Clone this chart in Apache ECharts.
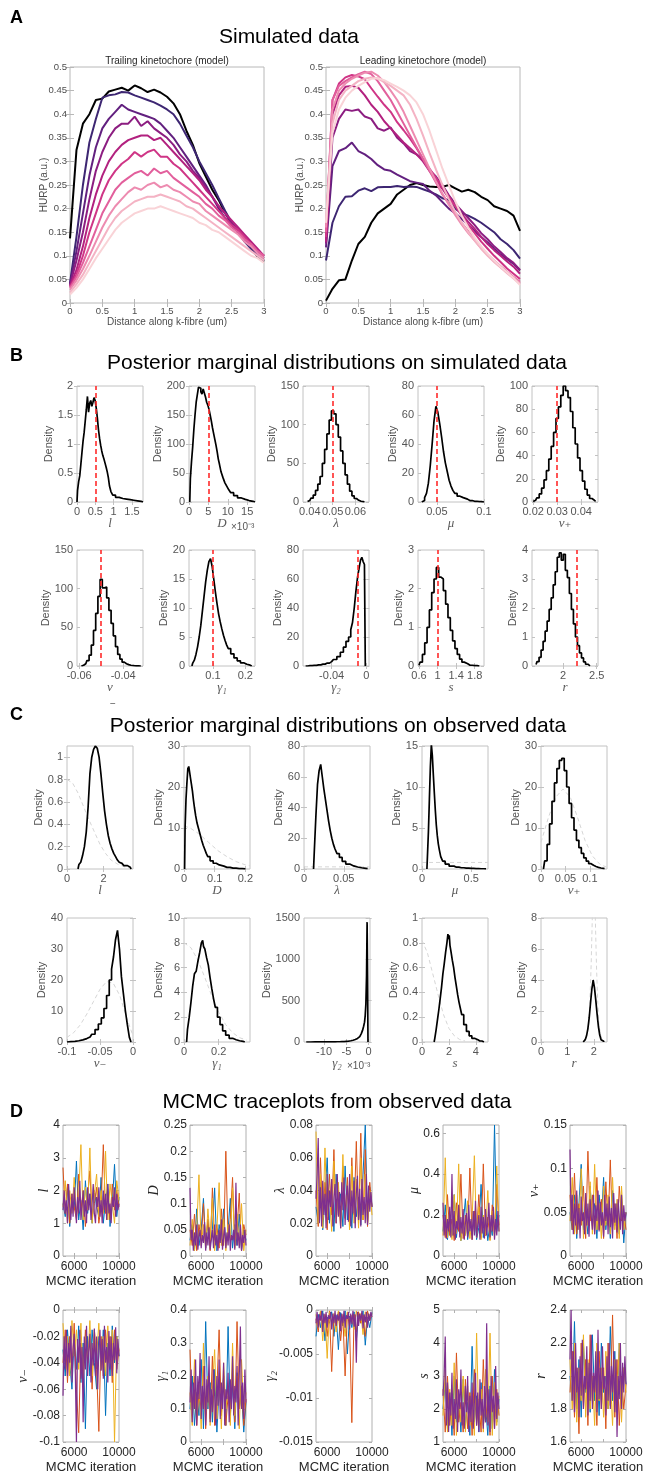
<!DOCTYPE html>
<html>
<head>
<meta charset="utf-8">
<script src="https://cdn.jsdelivr.net/npm/echarts@6/dist/echarts.min.js"></script>
<style>
  html, body { margin: 0; padding: 0; background: #fff; }
  #chart { width: 645px; height: 1477px; }
</style>
</head>
<body>
<div id="chart"></div>
<script>
// ---------------- panel A : HURP profiles ----------------
var distX = [0,0.1,0.2,0.3,0.4,0.5,0.6,0.7,0.8,0.9,1,1.1,1.2,1.3,1.4,1.5,1.6,1.7,1.8,1.9,2,2.1,2.2,2.3,2.4,2.5,2.6,2.7,2.8,2.9,3]

var trail0 = [0.137,0.324,0.38,0.40,0.43,0.433,0.448,0.452,0.456,0.45,0.461,0.455,0.447,0.452,0.446,0.437,0.423,0.40,0.365,0.335,0.296,0.268,0.24,0.218,0.19,0.169,0.148,0.134,0.116,0.099,0.088]
var trail1 = [0.042,0.14,0.25,0.34,0.39,0.435,0.44,0.442,0.447,0.446,0.44,0.435,0.43,0.425,0.418,0.41,0.40,0.38,0.355,0.33,0.30,0.275,0.25,0.222,0.195,0.17,0.15,0.13,0.115,0.1,0.09]
var trail2 = [0.04,0.11,0.19,0.27,0.33,0.37,0.39,0.405,0.42,0.41,0.405,0.4,0.395,0.39,0.38,0.365,0.35,0.33,0.31,0.29,0.27,0.25,0.225,0.2,0.18,0.165,0.15,0.135,0.12,0.105,0.095]
var trail3 = [0.038,0.09,0.15,0.22,0.28,0.32,0.35,0.37,0.38,0.38,0.395,0.375,0.385,0.37,0.36,0.35,0.335,0.315,0.3,0.28,0.265,0.245,0.225,0.205,0.19,0.17,0.155,0.14,0.125,0.11,0.1]
var trail4 = [0.036,0.07,0.12,0.18,0.23,0.27,0.3,0.32,0.335,0.345,0.35,0.355,0.355,0.345,0.35,0.335,0.32,0.305,0.29,0.275,0.26,0.24,0.225,0.205,0.19,0.175,0.16,0.145,0.13,0.115,0.1]
var trail5 = [0.034,0.06,0.1,0.15,0.19,0.23,0.26,0.28,0.295,0.305,0.32,0.31,0.32,0.325,0.31,0.31,0.295,0.285,0.27,0.255,0.24,0.225,0.21,0.195,0.18,0.165,0.155,0.14,0.125,0.11,0.1]
var trail6 = [0.032,0.055,0.085,0.12,0.155,0.19,0.215,0.24,0.255,0.265,0.275,0.28,0.27,0.285,0.275,0.28,0.265,0.255,0.245,0.235,0.225,0.21,0.2,0.185,0.175,0.16,0.15,0.135,0.125,0.11,0.1]
var trail7 = [0.028,0.048,0.072,0.1,0.13,0.16,0.185,0.205,0.22,0.235,0.245,0.24,0.25,0.255,0.245,0.25,0.24,0.235,0.225,0.215,0.21,0.195,0.185,0.175,0.165,0.155,0.145,0.13,0.12,0.105,0.095]
var trail8 = [0.022,0.04,0.06,0.085,0.11,0.135,0.16,0.18,0.195,0.205,0.215,0.22,0.225,0.225,0.23,0.225,0.22,0.215,0.205,0.2,0.19,0.18,0.17,0.16,0.15,0.14,0.13,0.12,0.11,0.1,0.09]
var trail9 = [0.018,0.032,0.05,0.072,0.095,0.115,0.135,0.155,0.17,0.18,0.19,0.195,0.2,0.2,0.205,0.2,0.195,0.19,0.185,0.18,0.17,0.165,0.155,0.15,0.14,0.13,0.12,0.11,0.1,0.095,0.085]

var lead0 = [0.005,0.03,0.048,0.05,0.09,0.125,0.14,0.17,0.19,0.2,0.21,0.23,0.24,0.25,0.254,0.25,0.247,0.246,0.246,0.25,0.243,0.236,0.24,0.235,0.225,0.218,0.205,0.2,0.195,0.185,0.153]
var lead1 = [0.09,0.17,0.205,0.225,0.226,0.238,0.243,0.237,0.245,0.246,0.246,0.248,0.246,0.247,0.246,0.241,0.236,0.23,0.222,0.218,0.2,0.19,0.185,0.178,0.17,0.16,0.15,0.135,0.125,0.112,0.094]
var lead2 = [0.118,0.29,0.322,0.328,0.34,0.322,0.315,0.305,0.292,0.283,0.28,0.272,0.265,0.258,0.255,0.252,0.238,0.228,0.214,0.2,0.19,0.178,0.165,0.152,0.14,0.128,0.115,0.103,0.093,0.083,0.069]
var lead3 = [0.126,0.35,0.39,0.41,0.407,0.41,0.395,0.39,0.37,0.365,0.372,0.35,0.338,0.322,0.315,0.305,0.282,0.268,0.25,0.228,0.21,0.195,0.18,0.165,0.148,0.135,0.12,0.108,0.095,0.085,0.07]
var lead4 = [0.13,0.4,0.44,0.458,0.46,0.456,0.44,0.42,0.405,0.385,0.37,0.355,0.34,0.328,0.315,0.3,0.28,0.26,0.242,0.222,0.205,0.188,0.172,0.157,0.14,0.125,0.112,0.1,0.088,0.077,0.062]
var lead5 = [0.14,0.43,0.465,0.478,0.483,0.48,0.474,0.455,0.437,0.42,0.405,0.383,0.366,0.348,0.328,0.305,0.285,0.265,0.245,0.225,0.205,0.185,0.165,0.148,0.13,0.115,0.1,0.087,0.073,0.062,0.051]
var lead6 = [0.15,0.43,0.46,0.47,0.478,0.485,0.49,0.485,0.47,0.45,0.43,0.405,0.38,0.355,0.33,0.305,0.28,0.255,0.23,0.21,0.19,0.17,0.152,0.135,0.118,0.103,0.09,0.078,0.066,0.055,0.045]
var lead7 = [0.16,0.41,0.45,0.465,0.475,0.482,0.488,0.49,0.482,0.468,0.45,0.43,0.405,0.375,0.345,0.315,0.285,0.258,0.232,0.208,0.186,0.166,0.148,0.132,0.116,0.102,0.088,0.076,0.065,0.055,0.042]
var lead8 = [0.17,0.38,0.43,0.45,0.46,0.47,0.475,0.478,0.476,0.468,0.46,0.45,0.44,0.42,0.39,0.355,0.318,0.283,0.25,0.22,0.193,0.17,0.15,0.132,0.115,0.1,0.087,0.075,0.063,0.052,0.04]
var lead9 = [0.17,0.36,0.41,0.435,0.45,0.46,0.468,0.475,0.476,0.472,0.465,0.458,0.45,0.44,0.425,0.4,0.365,0.325,0.285,0.25,0.215,0.185,0.16,0.138,0.12,0.104,0.09,0.077,0.065,0.053,0.038]

var shades = ['#000000','#3d2672','#62207f','#8c1d81','#b2217f','#cf3586','#e25f9c','#ed8bb0','#f4b3c4','#f9d3d7']

// ---------------- panel B : posteriors, simulated data ----------------
var bL_x = [0,0.03,0.06,0.09,0.12,0.15,0.18,0.21,0.24,0.27,0.3,0.33,0.36,0.39,0.42,0.45,0.48,0.51,0.54,0.57,0.6,0.63,0.66,0.69,0.72,0.75,0.78,0.81,0.84,0.87,0.9,0.95,1.0,1.1,1.2,1.3,1.4,1.5,1.6,1.7,1.8]
var bL_y = [0,0.2,0.35,0.45,0.65,0.85,1.05,1.2,1.4,1.6,1.82,1.55,1.7,1.75,1.65,1.72,1.8,1.75,1.62,1.45,1.25,1.1,0.98,0.88,0.8,0.74,0.67,0.6,0.52,0.42,0.28,0.18,0.12,0.08,0.06,0.05,0.04,0.03,0.02,0.01,0]
var bD_x = [0.2,0.5,0.8,1.1,1.4,1.7,2,2.3,2.6,2.9,3.2,3.5,3.8,4.1,4.4,4.7,5,5.3,5.6,5.9,6.2,6.5,6.8,7.1,7.4,7.7,8,8.5,9,9.5,10,10.5,11,12,13,14,15,16,17]
var bD_y = [0,40,70,95,125,150,172,185,198,196,190,186,195,188,181,172,167,160,150,140,128,118,108,98,87,74,65,52,42,33,27,21,16,11,7,4.5,2.5,1.2,0]
var bLam_x = [0.039,0.040,0.041,0.042,0.043,0.044,0.045,0.046,0.047,0.048,0.049,0.050,0.051,0.052,0.053,0.054,0.055,0.056,0.057,0.058,0.059,0.060,0.061,0.062,0.063,0.064]
var bLam_y = [0.5,2,5,9,15,23,33,50,68,88,106,118,114,100,84,66,50,35,23,14,8,4.5,2.2,1,0.4,0]
var bMu_x = [0.034,0.036,0.038,0.040,0.042,0.044,0.046,0.048,0.050,0.052,0.054,0.056,0.058,0.060,0.062,0.064,0.066,0.068,0.070,0.073,0.076,0.080,0.085,0.090,0.095,0.1]
var bMu_y = [0,1,3,6,13,25,40,56,66,62,54,45,35,27,21,15,11,8,6,4,3,2,1,0.5,0.2,0]
var bNup_x = [0.020,0.021,0.022,0.023,0.024,0.025,0.026,0.027,0.028,0.029,0.030,0.031,0.032,0.033,0.034,0.035,0.036,0.037,0.038,0.039,0.040,0.041,0.042,0.043,0.044,0.045,0.046]
var bNup_y = [0.5,1.5,3.5,7,12,19,27,37,48,60,72,82,92,100,96,90,78,64,50,38,27,18,11,6,3,1.5,0.5]
var bNum_x = [-0.059,-0.058,-0.057,-0.056,-0.055,-0.054,-0.053,-0.052,-0.051,-0.050,-0.049,-0.048,-0.047,-0.046,-0.045,-0.044,-0.043,-0.042,-0.041,-0.040,-0.039,-0.038,-0.037,-0.036,-0.034,-0.032]
var bNum_y = [0,1,3,7,14,27,46,68,90,112,101,102,88,72,55,39,25,15,9,5,3,1.8,1,0.5,0.2,0]
var bG1_x = [0.035,0.04,0.045,0.05,0.055,0.06,0.065,0.07,0.075,0.08,0.085,0.09,0.095,0.1,0.105,0.11,0.115,0.12,0.125,0.13,0.135,0.14,0.145,0.15,0.16,0.17,0.18,0.19,0.2,0.21,0.22]
var bG1_y = [0,0.5,1,2,3.3,5,7,9.5,12,14.5,16.5,18,18.5,17.2,15,12.8,10.8,9,7.6,6.4,5.3,4.4,3.6,3,2.1,1.4,0.9,0.55,0.3,0.15,0]
var bG2_x = [-0.07,-0.065,-0.06,-0.055,-0.05,-0.045,-0.04,-0.036,-0.032,-0.028,-0.025,-0.022,-0.019,-0.017,-0.015,-0.013,-0.011,-0.009,-0.0075,-0.006,-0.0045,-0.003,-0.0015,-0.001]
var bG2_y = [0,0.2,0.4,0.8,1.3,2,3,4.5,6.5,9.5,13,17,20,25,30,40,52,62,68,73,75,72,70,0]
var bS_x = [0.6,0.65,0.7,0.75,0.8,0.85,0.9,0.95,1.0,1.05,1.1,1.15,1.2,1.25,1.3,1.35,1.4,1.45,1.5,1.55,1.6,1.7,1.8,1.9]
var bS_y = [0.02,0.1,0.3,0.6,1.0,1.45,1.9,2.25,2.55,2.3,2.25,1.95,1.6,1.25,0.92,0.65,0.45,0.3,0.18,0.1,0.06,0.02,0.01,0]
var bR_x = [1.6,1.63,1.66,1.69,1.72,1.75,1.78,1.81,1.84,1.87,1.9,1.93,1.96,1.99,2.02,2.05,2.08,2.11,2.14,2.17,2.2,2.23,2.26,2.29,2.32,2.35,2.4]
var bR_y = [0.05,0.15,0.3,0.55,0.85,1.2,1.55,1.95,2.35,2.8,3.25,3.75,3.9,3.65,3.85,3.3,3.05,2.5,1.95,1.45,1.0,0.7,0.45,0.28,0.14,0.06,0]
var bTruth = [0.5, 5, 0.05, 0.05, 0.03, -0.05, 0.1, -0.008, 1, 2.2]

// ---------------- panel C : posteriors, observed data (grey = prior) ----------------
var cL_x = [0.6,0.7,0.8,0.9,1.0,1.1,1.2,1.3,1.4,1.5,1.6,1.7,1.8,1.9,2.0,2.1,2.2,2.3,2.4,2.5,2.6,2.7,2.8,2.9,3.0,3.2,3.4,3.5]
var cL_y = [0,0.04,0.06,0.12,0.2,0.33,0.55,0.85,1.0,1.07,1.1,1.08,1.0,0.85,0.68,0.52,0.4,0.3,0.23,0.18,0.14,0.11,0.08,0.06,0.05,0.03,0.015,0]
var cL_px = [0,0.3,0.6,0.9,1.2,1.5,1.8,2.1,2.4,2.8,3.2,3.6]
var cL_py = [0.8,0.77,0.68,0.56,0.44,0.33,0.22,0.14,0.08,0.04,0.015,0.005]
var cD_x = [0.002,0.005,0.008,0.011,0.014,0.017,0.02,0.023,0.026,0.029,0.032,0.036,0.04,0.045,0.05,0.055,0.06,0.065,0.07,0.075,0.08,0.09,0.1,0.11,0.12,0.14,0.16,0.18,0.2]
var cD_y = [0,10,17,21,24.5,25,23.5,22,20.5,19,17,15,13,11.2,9.8,8.4,7,5.8,4.8,3.8,3,2,1.4,1,0.7,0.4,0.2,0.1,0.05]
var cD_px = [0,0.02,0.05,0.08,0.11,0.14,0.17,0.2,0.215]
var cD_py = [10.5,10,8.5,6.5,4.5,3,1.8,1,0.8]
var cLam_x = [0.012,0.014,0.016,0.018,0.02,0.022,0.024,0.026,0.028,0.03,0.032,0.034,0.036,0.038,0.04,0.043,0.046,0.05,0.055,0.06,0.065,0.07,0.075,0.08]
var cLam_y = [0,12,35,55,64,68,60,52,45,38,31,25,20,16,13,10,7.5,5,3.2,2,1.3,0.8,0.4,0.2]
var cLam_px = [0,0.083]
var cLam_py = [1.4,1.4]
var cMu_x = [0.05,0.06,0.07,0.08,0.09,0.1,0.11,0.12,0.13,0.14,0.15,0.16,0.17,0.18,0.2,0.22,0.25,0.3,0.35,0.4,0.45,0.5,0.55,0.6,0.65]
var cMu_y = [0,1.5,4.5,8.5,12.5,15.2,13.8,11.5,9.3,7.2,5.4,4.1,3.1,2.4,1.5,0.95,0.6,0.35,0.22,0.15,0.1,0.07,0.05,0.03,0.02]
var cMu_px = [0,0.67]
var cMu_py = [0.8,0.8]
var cNup_x = [0.005,0.01,0.015,0.02,0.025,0.03,0.035,0.04,0.045,0.05,0.055,0.06,0.065,0.07,0.075,0.08,0.085,0.09,0.095,0.1,0.105,0.11,0.115,0.12,0.125,0.13]
var cNup_y = [0,2,6,11,16.5,21,24.5,26.5,27,24,20,16,12.5,9.5,7,5.2,3.8,2.7,1.9,1.3,0.9,0.6,0.4,0.25,0.15,0.1]
var cNup_px = [0,0.015,0.03,0.045,0.06,0.075,0.09,0.105,0.12,0.135]
var cNup_py = [6.5,12.5,17.5,19.5,17.5,12.5,7,3.2,1.2,0.4]
var cNum_x = [-0.1,-0.094,-0.088,-0.082,-0.076,-0.07,-0.065,-0.06,-0.055,-0.05,-0.046,-0.042,-0.038,-0.034,-0.031,-0.028,-0.025,-0.022,-0.019,-0.016,-0.013,-0.01,-0.007,-0.004,-0.002]
var cNum_y = [0,0.1,0.2,0.4,0.7,1.1,1.6,2.5,4,5.8,7.8,10.8,15,20,23.5,27.5,33,36,30,21,15.5,10,5.5,1.5,0]
var cNum_px = [-0.1,-0.09,-0.08,-0.07,-0.06,-0.05,-0.04,-0.03,-0.02,-0.01,0]
var cNum_py = [1.5,3,5.5,9,13,17,19.5,19,15,8,2]
var cG1_x = [0.015,0.025,0.035,0.045,0.055,0.065,0.075,0.085,0.095,0.105,0.11,0.115,0.125,0.135,0.145,0.155,0.165,0.175,0.185,0.2,0.215,0.23,0.25,0.27,0.29,0.31,0.33,0.35]
var cG1_y = [0,1,2,3.2,4.5,5.5,5.7,6.5,7.2,8,8.2,7.7,7.5,6.8,6.2,5.2,4.3,3.5,2.8,2,1.4,0.9,0.55,0.3,0.18,0.1,0.05,0]
var cG1_px = [0,0.04,0.08,0.12,0.16,0.2,0.24,0.28,0.32,0.36]
var cG1_py = [8,7.6,6.6,5.2,3.7,2.4,1.4,0.75,0.35,0.15]
var cG2_x = [-14,-12,-10,-8,-7,-6,-5,-4.5,-4,-3.5,-3,-2.5,-2,-1.75,-1.5,-1.25,-1,-0.85,-0.7,-0.55,-0.4,-0.3,-0.2,-0.1]
var cG2_y = [0,0.5,1,2,3,5,8,11,15,21,30,43,65,82,105,140,190,240,320,460,800,1450,800,0]
var cS_x = [0.9,1.0,1.1,1.2,1.3,1.4,1.5,1.6,1.7,1.8,1.9,1.95,2.0,2.05,2.1,2.2,2.3,2.4,2.5,2.6,2.7,2.8,2.9,3.0,3.2,3.4,3.6,3.8,4.0,4.3,4.6]
var cS_y = [0,0.03,0.1,0.18,0.26,0.35,0.44,0.55,0.63,0.72,0.8,0.87,0.83,0.86,0.78,0.73,0.66,0.6,0.52,0.45,0.38,0.32,0.27,0.22,0.14,0.085,0.05,0.03,0.018,0.008,0]
var cS_px = [0,0.4,0.8,1.2,1.6,2.0,2.4,2.8,3.2]
var cS_py = [0.82,0.72,0.55,0.38,0.22,0.11,0.05,0.02,0.008]
var cR_x = [1.6,1.65,1.7,1.75,1.8,1.85,1.9,1.95,2.0,2.05,2.1,2.15,2.2,2.25,2.3,2.35,2.4]
var cR_y = [0,0.05,0.15,0.4,0.85,1.55,2.5,3.4,4.0,3.5,2.7,1.8,1.0,0.45,0.15,0.05,0]
var cR_px = [1.7,1.8,1.85,1.9,1.95,2.0,2.05,2.1,2.15,2.2,2.3]
var cR_py = [0.2,1,2.5,5,8.5,10,8.5,5,2.5,1,0.2]

// ---------------- panel D : MCMC traces ----------------
// blue / orange / yellow chains on a 200-step grid, purple (drawn last) on a 100-step grid
var iterX = [5000,5200,5400,5600,5800,6000,6200,6400,6600,6800,7000,7200,7400,7600,7800,8000,8200,8400,8600,8800,9000,9200,9400,9600,9800,10000]
var iterFine = [5000,5100,5200,5300,5400,5500,5600,5700,5800,5900,6000,6100,6200,6300,6400,6500,6600,6700,6800,6900,7000,7100,7200,7300,7400,7500,7600,7700,7800,7900,8000,8100,8200,8300,8400,8500,8600,8700,8800,8900,9000,9100,9200,9300,9400,9500,9600,9700,9800,9900,10000]
var chainColors = ['#0072BD','#D95319','#EDB120','#7E2F8E']

var dL = [
  [1.6,1.2,2.1,0.9,1.8,1.4,2.9,1.1,1.7,0.8,2.3,1.3,1.9,1.0,2.0,1.5,1.2,2.4,1.0,1.7,2.2,0.9,1.6,2.8,1.2,1.8],
  [2.7,1.3,2.2,1.0,1.9,1.5,1.1,2.5,1.4,2.0,0.9,1.8,2.6,1.2,1.6,2.1,1.0,1.5,3.4,1.3,1.9,1.1,2.2,1.4,2.0,1.5],
  [1.5,2.3,1.0,2.0,1.3,2.4,1.2,1.8,3.4,1.1,2.1,1.4,3.3,1.0,1.9,2.5,1.2,2.0,1.3,3.2,1.1,2.2,1.6,1.0,2.3,1.7]]
var dL_p = [1.4,2.0,1.3,1.7,1.0,2.2,1.5,1.1,1.9,1.2,2.1,1.6,1.0,1.8,1.3,2.3,1.1,1.5,2.0,1.2,1.7,1.0,2.1,1.4,1.9,1.1,1.6,2.2,1.3,1.0,1.8,1.5,2.1,1.2,1.7,1.0,2.0,1.4,1.9,1.1,2.2,1.3,1.6,1.0,1.8,1.5,2.1,1.2,1.9,1.4,1.6]
var dD = [
  [0.03,0.06,0.01,0.09,0.02,0.05,0.11,0.015,0.07,0.02,0.05,0.13,0.01,0.06,0.03,0.09,0.02,0.05,0.11,0.015,0.06,0.02,0.08,0.01,0.05,0.03],
  [0.05,0.02,0.08,0.01,0.06,0.03,0.1,0.02,0.07,0.01,0.13,0.03,0.06,0.015,0.09,0.02,0.2,0.03,0.07,0.15,0.02,0.05,0.12,0.01,0.06,0.04],
  [0.02,0.07,0.01,0.05,0.155,0.02,0.06,0.015,0.09,0.03,0.11,0.01,0.05,0.14,0.02,0.07,0.01,0.06,0.03,0.13,0.015,0.08,0.02,0.1,0.01,0.05]]
var dD_p = [0.13,0.03,0.05,0.01,0.045,0.02,0.06,0.012,0.035,0.05,0.015,0.04,0.025,0.065,0.01,0.045,0.02,0.055,0.012,0.03,0.05,0.015,0.06,0.02,0.04,0.01,0.05,0.025,0.07,0.012,0.035,0.055,0.015,0.045,0.02,0.06,0.01,0.04,0.03,0.05,0.012,0.14,0.02,0.045,0.015,0.06,0.01,0.04,0.025,0.05,0.02]
var dLam = [
  [0.03,0.02,0.045,0.016,0.035,0.06,0.02,0.04,0.015,0.05,0.025,0.038,0.018,0.055,0.022,0.04,0.017,0.048,0.024,0.036,0.019,0.05,0.08,0.02,0.042,0.03],
  [0.04,0.018,0.06,0.022,0.045,0.016,0.05,0.025,0.065,0.02,0.04,0.017,0.055,0.023,0.048,0.019,0.06,0.025,0.07,0.02,0.075,0.022,0.065,0.018,0.045,0.03],
  [0.076,0.02,0.05,0.017,0.066,0.024,0.04,0.015,0.058,0.021,0.045,0.018,0.062,0.023,0.042,0.016,0.055,0.02,0.047,0.017,0.06,0.022,0.05,0.019,0.04,0.025]]
var dLam_p = [0.035,0.05,0.072,0.02,0.042,0.018,0.046,0.025,0.038,0.017,0.05,0.022,0.04,0.03,0.047,0.018,0.036,0.044,0.02,0.05,0.024,0.039,0.017,0.045,0.028,0.048,0.019,0.037,0.043,0.021,0.05,0.018,0.04,0.026,0.046,0.017,0.038,0.049,0.022,0.041,0.018,0.047,0.025,0.036,0.02,0.05,0.019,0.043,0.027,0.039,0.03]
var dMu = [
  [0.12,0.25,0.08,0.18,0.1,0.3,0.09,0.2,0.075,0.15,0.28,0.08,0.17,0.1,0.22,0.08,0.14,0.35,0.09,0.19,0.075,0.16,0.1,0.64,0.12,0.2],
  [0.2,0.09,0.3,0.1,0.18,0.075,0.26,0.12,0.4,0.085,0.2,0.1,0.43,0.08,0.22,0.11,0.3,0.09,0.45,0.1,0.19,0.08,0.25,0.1,0.35,0.15],
  [0.1,0.48,0.09,0.22,0.08,0.3,0.11,0.45,0.075,0.2,0.1,0.27,0.085,0.18,0.49,0.09,0.24,0.08,0.2,0.1,0.32,0.075,0.22,0.09,0.44,0.12]]
var dMu_p = [0.26,0.1,0.2,0.085,0.18,0.12,0.24,0.09,0.4,0.1,0.22,0.08,0.17,0.13,0.25,0.09,0.19,0.11,0.23,0.08,0.16,0.21,0.09,0.25,0.12,0.18,0.08,0.22,0.1,0.27,0.09,0.15,0.2,0.08,0.24,0.11,0.19,0.085,0.23,0.1,0.17,0.26,0.09,0.2,0.12,0.24,0.08,0.18,0.1,0.22,0.12]
var dNup = [
  [0.05,0.03,0.07,0.02,0.06,0.105,0.03,0.05,0.025,0.08,0.035,0.06,0.02,0.07,0.04,0.09,0.03,0.055,0.02,0.075,0.035,0.06,0.025,0.07,0.015,0.05],
  [0.07,0.03,0.095,0.025,0.06,0.035,0.08,0.02,0.12,0.04,0.07,0.025,0.09,0.03,0.065,0.02,0.085,0.035,0.11,0.03,0.06,0.02,0.08,0.04,0.05,0.03],
  [0.04,0.09,0.025,0.07,0.03,0.1,0.02,0.06,0.035,0.085,0.025,0.105,0.03,0.06,0.02,0.08,0.035,0.07,0.025,0.09,0.03,0.065,0.02,0.08,0.03,0.05]]
var dNup_p = [0.122,0.04,0.07,0.025,0.06,0.035,0.075,0.03,0.055,0.02,0.068,0.04,0.05,0.025,0.072,0.035,0.06,0.022,0.065,0.045,0.03,0.07,0.025,0.058,0.04,0.075,0.028,0.062,0.035,0.05,0.022,0.07,0.04,0.06,0.025,0.068,0.033,0.055,0.02,0.072,0.038,0.06,0.027,0.065,0.045,0.03,0.07,0.025,0.058,0.04,0.05]
var dNum = [
  [-0.03,-0.05,-0.015,-0.04,-0.06,-0.02,-0.045,-0.012,-0.055,-0.025,-0.09,-0.02,-0.05,-0.015,-0.04,-0.06,-0.02,-0.045,-0.015,-0.08,-0.025,-0.05,-0.012,-0.04,-0.02,-0.035],
  [-0.04,-0.015,-0.055,-0.02,-0.045,-0.01,-0.06,-0.093,-0.025,-0.05,-0.015,-0.04,-0.02,-0.06,-0.015,-0.045,-0.092,-0.02,-0.05,-0.015,-0.04,-0.02,-0.055,-0.015,-0.045,-0.03],
  [-0.01,-0.04,-0.02,-0.05,-0.008,-0.035,-0.015,-0.045,-0.01,-0.055,-0.02,-0.04,-0.008,-0.05,-0.015,-0.035,-0.01,-0.045,-0.02,-0.05,-0.012,-0.04,-0.015,-0.1,-0.02,-0.03]]
var dNum_p = [-0.065,-0.02,-0.045,-0.015,-0.05,-0.025,-0.04,-0.012,-0.055,-0.03,-0.018,-0.048,-0.1,-0.022,-0.04,-0.015,-0.052,-0.028,-0.085,-0.02,-0.045,-0.012,-0.05,-0.03,-0.018,-0.055,-0.025,-0.042,-0.014,-0.05,-0.02,-0.06,-0.03,-0.015,-0.046,-0.022,-0.052,-0.012,-0.04,-0.028,-0.055,-0.016,-0.045,-0.02,-0.05,-0.025,-0.038,-0.013,-0.048,-0.022,-0.035]
var dG1 = [
  [0.1,0.2,0.05,0.15,0.08,0.25,0.04,0.365,0.1,0.18,0.06,0.22,0.03,0.16,0.09,0.2,0.05,0.35,0.08,0.17,0.04,0.21,0.1,0.15,0.03,0.12],
  [0.28,0.08,0.2,0.05,0.15,0.1,0.23,0.04,0.18,0.07,0.26,0.05,0.16,0.34,0.08,0.2,0.05,0.14,0.09,0.22,0.06,0.365,0.1,0.17,0.05,0.13],
  [0.15,0.05,0.25,0.08,0.18,0.04,0.3,0.09,0.2,0.05,0.16,0.28,0.07,0.19,0.04,0.24,0.1,0.17,0.05,0.3,0.08,0.2,0.04,0.25,0.1,0.15]]
var dG1_p = [0.12,0.22,0.06,0.18,0.1,0.25,0.05,0.2,0.13,0.27,0.07,0.17,0.1,0.23,0.05,0.19,0.12,0.26,0.06,0.16,0.09,0.22,0.14,0.05,0.2,0.11,0.25,0.07,0.18,0.1,0.24,0.05,0.16,0.13,0.21,0.06,0.19,0.1,0.26,0.08,0.17,0.12,0.23,0.05,0.2,0.35,0.1,0.18,0.07,0.22,0.12]
var dG2 = [
  [-0.003,-0.0005,-0.002,-0.0001,-0.0035,-0.0008,-0.0015,-0.0002,-0.003,-0.0006,-0.0045,-0.0003,-0.0018,-0.0001,-0.005,-0.0007,-0.002,-0.0002,-0.0035,-0.0005,-0.0015,-0.0001,-0.004,-0.0008,-0.002,-0.0003],
  [-0.001,-0.0025,-0.0002,-0.0015,-0.0005,-0.003,-0.0001,-0.007,-0.0006,-0.002,-0.0002,-0.0035,-0.0007,-0.0075,-0.0003,-0.002,-0.0128,-0.0005,-0.0025,-0.0002,-0.0015,-0.0006,-0.003,-0.0001,-0.0012,-0.0004],
  [-0.0005,-0.002,-0.0001,-0.0035,-0.0006,-0.0055,-0.0002,-0.0015,-0.0004,-0.0025,-0.0001,-0.0018,-0.0005,-0.003,-0.0002,-0.0012,-0.0006,-0.0022,-0.0001,-0.0015,-0.0004,-0.0028,-0.0002,-0.0012,-0.0005,-0.0008]]
var dG2_p = [-0.0015,-0.0002,-0.002,-0.0005,-0.0012,-0.0001,-0.0025,-0.0004,-0.0015,-0.0002,-0.002,-0.0006,-0.001,-0.0002,-0.0022,-0.0004,-0.0015,-0.0001,-0.0018,-0.0005,-0.0012,-0.0002,-0.0024,-0.0004,-0.0015,-0.0001,-0.002,-0.0006,-0.001,-0.0002,-0.0022,-0.0004,-0.0016,-0.0001,-0.0019,-0.0005,-0.006,-0.0002,-0.0018,-0.0004,-0.0012,-0.0001,-0.0021,-0.0005,-0.0014,-0.0002,-0.002,-0.0004,-0.0012,-0.0002,-0.0008]
var dS = [
  [2.0,2.8,1.4,2.5,1.2,3.0,1.6,2.3,1.3,2.9,1.5,2.2,1.2,3.9,1.6,2.4,1.3,2.8,1.5,2.1,1.2,2.7,1.4,3.2,1.6,2.3],
  [2.6,1.3,3.0,1.5,2.4,1.2,3.7,1.6,2.2,1.3,2.9,1.4,2.5,1.2,3.2,1.5,2.3,1.3,3.5,1.6,2.4,1.2,3.0,1.4,2.6,1.8],
  [1.8,3.2,1.3,2.6,1.5,3.4,1.2,2.4,1.6,3.0,1.3,2.7,1.5,2.2,1.2,4.3,1.5,2.6,1.3,3.2,1.6,4.3,1.2,2.8,1.5,2.4]]
var dS_p = [2.4,3.0,4.2,1.5,2.8,1.3,2.5,1.8,3.1,1.4,2.3,1.7,2.9,1.3,2.6,2.0,3.2,1.5,2.2,1.4,2.7,1.9,3.0,1.3,2.4,1.6,2.8,1.4,2.2,3.1,1.5,2.5,1.3,2.9,1.8,2.3,1.4,2.7,1.6,4.6,1.5,2.6,1.3,3.0,1.9,2.4,1.4,3.3,1.7,2.5,2.0]
var dR = [
  [2.0,1.85,2.33,1.8,2.1,1.75,2.2,1.9,2.05,1.78,2.25,1.85,2.1,1.76,2.2,1.9,2.0,1.8,2.3,1.85,2.15,1.78,2.2,1.9,2.05,1.95],
  [1.9,2.15,1.75,2.05,1.65,2.2,1.8,2.1,1.7,2.25,1.85,2.0,1.7,2.15,1.8,2.05,1.68,2.2,1.82,2.37,1.75,2.1,1.7,2.0,1.8,1.95],
  [2.1,1.8,2.2,1.72,2.05,1.85,2.25,1.75,2.1,1.8,2.0,1.7,2.2,1.85,2.05,1.75,2.15,1.8,2.0,1.7,2.1,1.85,2.2,1.72,2.05,1.9]]
var dR_p = [2.1,2.4,1.85,2.15,1.78,2.2,1.9,2.05,1.75,2.12,1.88,2.22,1.8,2.0,1.92,2.18,1.76,2.08,1.85,2.25,1.8,2.02,1.9,2.15,1.78,2.28,1.86,2.05,1.8,2.18,1.92,2.0,1.76,2.12,1.85,2.2,1.8,2.06,1.9,2.15,1.78,2.1,1.63,2.0,1.86,2.2,1.8,2.08,1.9,2.12,1.95]

// ------------------------------------------------------------------
var SANS = "'Liberation Sans', Arial, Helvetica, sans-serif"
var SERIF = "'Liberation Serif', 'DejaVu Serif', serif"

var opt = { animation: false, backgroundColor: '#ffffff', grid: [], xAxis: [], yAxis: [], series: [], graphic: [] }

function num(v) { return String(parseFloat(Number(v).toPrecision(10))) }

// rough Arial advance widths, used to push the y name past the tick labels
function textW(s, fs) {
  var w = 0
  for (var i = 0; i < s.length; i++) {
    var c = s[i]
    w += (c >= '0' && c <= '9') ? 0.556 : (c === '.' ? 0.278 : (c === '-' ? 0.333 : 0.6))
  }
  return w * fs
}

function pairs(xs, ys) {
  var out = []
  for (var i = 0; i < Math.min(xs.length, ys.length); i++) out.push([xs[i], ys[i]])
  return out
}

// one MATLAB-like box: axes on all four sides, ticks pointing inwards
function addBox(p) {
  var gi = opt.grid.length
  opt.grid.push({ left: p.left, top: p.top, width: p.width, height: p.height, show: true,
    borderColor: p.frame, borderWidth: 1, backgroundColor: 'rgba(0,0,0,0)',
    containLabel: false, outerBoundsMode: 'none' })
  var tick = { show: true, inside: true, length: p.tickLen, lineStyle: { color: p.frame, width: 1 } }
  var lab = { fontSize: p.fs, color: p.lc, fontFamily: SANS, formatter: num, hideOverlap: false }
  var yGap = p.yGap
  if (yGap == null) {
    var mw = 0
    p.yt.forEach(function (v) { mw = Math.max(mw, textW(num(v), p.fs)) })
    yGap = mw + p.yPad
  }
  var xi = opt.xAxis.length
  opt.xAxis.push({ type: 'value', gridIndex: gi, position: 'bottom', min: p.xr[0], max: p.xr[1],
    axisLine: { show: false }, splitLine: { show: false },
    axisTick: Object.assign({ customValues: p.xt }, tick),
    axisLabel: Object.assign({ customValues: p.xl || p.xt, margin: p.xm }, lab),
    name: p.xName || '', nameLocation: 'middle', nameGap: p.xGap, nameMoveOverlap: false,
    nameTextStyle: p.xNameStyle })
  opt.xAxis.push({ type: 'value', gridIndex: gi, position: 'top', min: p.xr[0], max: p.xr[1],
    axisLine: { show: false }, splitLine: { show: false }, axisLabel: { show: false },
    axisTick: Object.assign({ customValues: p.xt }, tick) })
  var yi = opt.yAxis.length
  opt.yAxis.push({ type: 'value', gridIndex: gi, position: 'left', min: p.yr[0], max: p.yr[1],
    axisLine: { show: false }, splitLine: { show: false },
    axisTick: Object.assign({ customValues: p.yt }, tick),
    axisLabel: Object.assign({ customValues: p.yt, margin: p.ym }, lab),
    name: p.yName || '', nameLocation: 'middle', nameGap: yGap, nameRotate: 90, nameMoveOverlap: false,
    nameTextStyle: p.yNameStyle })
  opt.yAxis.push({ type: 'value', gridIndex: gi, position: 'right', min: p.yr[0], max: p.yr[1],
    axisLine: { show: false }, splitLine: { show: false }, axisLabel: { show: false },
    axisTick: Object.assign({ customValues: p.yt }, tick) })
  return { x: xi, y: yi }
}

function addLine(ax, data, color, width, extra) {
  var s = { type: 'line', xAxisIndex: ax.x, yAxisIndex: ax.y, data: data, symbol: 'none',
    silent: true, lineStyle: { color: color, width: width } }
  return opt.series.push(Object.assign(s, extra || {}))
}

function addText(text, x, y, size, o) {
  o = o || {}
  opt.graphic.push({ type: 'text', x: x, y: y, silent: true, z: 50, style: {
    text: text, fill: o.color || '#000', fontSize: size, fontFamily: o.family || SANS,
    fontWeight: o.weight || 'normal', fontStyle: o.style || 'normal',
    align: o.align || 'center', verticalAlign: 'middle',
    textAlign: o.align || 'center', textVerticalAlign: 'middle' } })
}

// ---------------- panel A ----------------
var aTicksX = [0,0.5,1,1.5,2,2.5,3]
var aTicksY = [0,0.05,0.1,0.15,0.2,0.25,0.3,0.35,0.4,0.45,0.5]
var aGrey = '#4d4d4d'
var trails = [trail0, trail1, trail2, trail3, trail4, trail5, trail6, trail7, trail8, trail9]
var leads = [lead0, lead1, lead2, lead3, lead4, lead5, lead6, lead7, lead8, lead9]

;[[70, trails], [326, leads]].forEach(function (cfg) {
  var ax = addBox({ left: cfg[0], top: 67, width: 194, height: 236, xr: [0, 3], xt: aTicksX, yr: [0, 0.5], yt: aTicksY,
    fs: 9.5, lc: aGrey, frame: '#b8b8b8', tickLen: 4, xm: 3, ym: 3,
    xName: 'Distance along k-fibre (um)', xGap: 14, xNameStyle: { fontSize: 10, color: aGrey, fontFamily: SANS },
    yName: 'HURP (a.u.)', yGap: 21, yNameStyle: { fontSize: 10, color: aGrey, fontFamily: SANS } })
  cfg[1].forEach(function (ys, i) { addLine(ax, pairs(distX, ys), shades[i], 2) })
})
addText('A', 10, 18, 18, { weight: 'bold', align: 'left' })
addText('Simulated data', 289, 37, 21)
addText('Trailing kinetochore (model)', 167, 61, 10, { color: '#262626' })
addText('Leading kinetochore (model)', 423, 61, 10, { color: '#262626' })

// ---------------- panels B and C ----------------
var bSpecs = [
  { x: bL_x, y: bL_y, xr: [0, 1.8], xt: [0, 0.5, 1, 1.5], yr: [0, 2], yt: [0, 0.5, 1, 1.5, 2], name: 'l' },
  { x: bD_x, y: bD_y, xr: [0, 17], xt: [0, 5, 10, 15], yr: [0, 200], yt: [0, 50, 100, 150, 200], name: 'D' },
  { x: bLam_x, y: bLam_y, xr: [0.037, 0.066], xt: [0.04, 0.05, 0.06], yr: [0, 150], yt: [0, 50, 100, 150], name: 'λ' },
  { x: bMu_x, y: bMu_y, xr: [0.03, 0.1], xt: [0.05, 0.1], yr: [0, 80], yt: [0, 20, 40, 60, 80], name: 'μ' },
  { x: bNup_x, y: bNup_y, xr: [0.0195, 0.047], xt: [0.02, 0.03, 0.04], yr: [0, 100], yt: [0, 20, 40, 60, 80, 100], name: 'ν₊' },
  { x: bNum_x, y: bNum_y, xr: [-0.061, -0.031], xt: [-0.06, -0.04], yr: [0, 150], yt: [0, 50, 100, 150], name: 'ν' },
  { x: bG1_x, y: bG1_y, xr: [0.026, 0.23], xt: [0.1, 0.2], yr: [0, 20], yt: [0, 5, 10, 15, 20], name: 'γ₁' },
  { x: bG2_x, y: bG2_y, xr: [-0.073, 0.003], xt: [-0.04, 0], yr: [0, 80], yt: [0, 20, 40, 60, 80], name: 'γ₂' },
  { x: bS_x, y: bS_y, xr: [0.58, 2.0], xt: [0.6, 1, 1.4, 1.8], yr: [0, 3], yt: [0, 1, 2, 3], name: 's' },
  { x: bR_x, y: bR_y, xr: [1.54, 2.52], xt: [2, 2.5], yr: [0, 4], yt: [0, 1, 2, 3, 4], name: 'r' }
]
var cSpecs = [
  { x: cL_x, y: cL_y, px: cL_px, py: cL_py, xr: [0, 3.6], xt: [0, 2], yr: [0, 1.1], yt: [0, 0.2, 0.4, 0.6, 0.8, 1], name: 'l' },
  { x: cD_x, y: cD_y, px: cD_px, py: cD_py, xr: [0, 0.215], xt: [0, 0.1, 0.2], yr: [0, 30], yt: [0, 10, 20, 30], name: 'D' },
  { x: cLam_x, y: cLam_y, px: cLam_px, py: cLam_py, xr: [0, 0.083], xt: [0, 0.05], yr: [0, 80], yt: [0, 20, 40, 60, 80], name: 'λ' },
  { x: cMu_x, y: cMu_y, px: cMu_px, py: cMu_py, xr: [0, 0.67], xt: [0, 0.5], yr: [0, 15], yt: [0, 5, 10, 15], name: 'μ' },
  { x: cNup_x, y: cNup_y, px: cNup_px, py: cNup_py, xr: [0, 0.135], xt: [0, 0.05, 0.1], yr: [0, 30], yt: [0, 10, 20, 30], name: 'ν₊' },
  { x: cNum_x, y: cNum_y, px: cNum_px, py: cNum_py, xr: [-0.1, 0], xt: [-0.1, -0.05, 0], yr: [0, 40], yt: [0, 10, 20, 30, 40], name: 'ν₋' },
  { x: cG1_x, y: cG1_y, px: cG1_px, py: cG1_py, xr: [0, 0.38], xt: [0, 0.2], yr: [0, 10], yt: [0, 2, 4, 6, 8, 10], name: 'γ₁' },
  { x: cG2_x, y: cG2_y, xr: [-14.5, 0.3], xt: [-10, -5, 0], yr: [0, 1500], yt: [0, 500, 1000, 1500], name: 'γ₂' },
  { x: cS_x, y: cS_y, px: cS_px, py: cS_py, xr: [0, 4.9], xt: [0, 2, 4], yr: [0, 1], yt: [0, 0.2, 0.4, 0.6, 0.8, 1], name: 's' },
  { x: cR_x, y: cR_y, px: cR_px, py: cR_py, xr: [0, 2.5], xt: [0, 1, 2], yr: [0, 8], yt: [0, 2, 4, 6, 8], name: 'r' }
]

var histGrey = '#555555'
function histPanel(sp, left, top, w, h, truth) {
  var ax = addBox({ left: left, top: top, width: w, height: h, xr: sp.xr, xt: sp.xt, yr: sp.yr, yt: sp.yt,
    fs: 11, lc: histGrey, frame: '#c2c2c2', tickLen: 3, xm: 4, ym: 4, yPad: 7,
    xName: sp.name, xGap: 15, xNameStyle: { fontSize: 13, color: '#5a5a5a', fontFamily: SERIF, fontStyle: 'italic' },
    yName: 'Density', yNameStyle: { fontSize: 11, color: histGrey, fontFamily: SANS } })
  if (sp.px) addLine(ax, pairs(sp.px, sp.py), '#d6d6d6', 1, { lineStyle: { color: '#d6d6d6', width: 1, type: [4, 3] } })
  var extra = { step: 'middle', z: 3 }
  if (truth != null) {
    extra.markLine = { silent: true, symbol: ['none', 'none'], label: { show: false },
      lineStyle: { color: '#ff2b2b', type: [5, 3], width: 1.6 }, data: [{ xAxis: truth }] }
  }
  addLine(ax, pairs(sp.x, sp.y), '#000', 1.7, extra)
}

var bLefts = [77, 189, 303, 418, 532]
bSpecs.forEach(function (sp, i) {
  histPanel(sp, bLefts[i % 5], i < 5 ? 386 : 550, 66, 116, bTruth[i])
})
var cLefts = [67, 184, 304, 422, 541]
cSpecs.forEach(function (sp, i) {
  histPanel(sp, cLefts[i % 5], i < 5 ? 746 : 918, 66, i < 5 ? 123 : 124, null)
})
addText('B', 10, 356, 18, { weight: 'bold', align: 'left' })
addText('Posterior marginal distributions on simulated data', 337, 363, 21)
addText('×10⁻³', 231, 527, 10, { color: histGrey, align: 'left' })
addText('−', 113, 704, 10, { color: histGrey })
addText('C', 10, 715, 18, { weight: 'bold', align: 'left' })
addText('Posterior marginal distributions on observed data', 338, 726, 21)
addText('×10⁻³', 347, 1066, 10, { color: histGrey, align: 'left' })

// ---------------- panel D ----------------
var dSpecs = [
  { c: dL, p: dL_p, yr: [0, 4], yt: [0, 1, 2, 3, 4], name: 'l' },
  { c: dD, p: dD_p, yr: [0, 0.25], yt: [0, 0.05, 0.1, 0.15, 0.2, 0.25], name: 'D' },
  { c: dLam, p: dLam_p, yr: [0, 0.08], yt: [0, 0.02, 0.04, 0.06, 0.08], name: 'λ' },
  { c: dMu, p: dMu_p, yr: [0, 0.64], yt: [0, 0.2, 0.4, 0.6], name: 'μ' },
  { c: dNup, p: dNup_p, yr: [0, 0.15], yt: [0, 0.05, 0.1, 0.15], name: 'ν₊' },
  { c: dNum, p: dNum_p, yr: [-0.1, 0], yt: [-0.1, -0.08, -0.06, -0.04, -0.02, 0], name: 'ν₋' },
  { c: dG1, p: dG1_p, yr: [0, 0.4], yt: [0, 0.1, 0.2, 0.3, 0.4], name: 'γ₁' },
  { c: dG2, p: dG2_p, yr: [-0.015, 0], yt: [-0.015, -0.01, -0.005, 0], name: 'γ₂' },
  { c: dS, p: dS_p, yr: [1, 5], yt: [1, 2, 3, 4, 5], name: 's' },
  { c: dR, p: dR_p, yr: [1.6, 2.4], yt: [1.6, 1.8, 2, 2.2, 2.4], name: 'r' }
]
var dLefts = [63, 190, 316, 443, 570]
var dInk = '#262626'
dSpecs.forEach(function (sp, i) {
  var ax = addBox({ left: dLefts[i % 5], top: i < 5 ? 1125 : 1310, width: 56, height: i < 5 ? 131 : 132,
    xr: [5000, 10000], xt: [6000, 8000, 10000], xl: [6000, 10000], yr: sp.yr, yt: sp.yt,
    fs: 12, lc: dInk, frame: '#b0b0b0', tickLen: 3, xm: 5, ym: 3, yPad: 5,
    xName: 'MCMC iteration', xGap: 19, xNameStyle: { fontSize: 13, color: dInk, fontFamily: SANS },
    yName: sp.name, yNameStyle: { fontSize: 14, color: dInk, fontFamily: SERIF, fontStyle: 'italic' } })
  sp.c.forEach(function (chain, k) { addLine(ax, pairs(iterX, chain), chainColors[k], 1) })
  addLine(ax, pairs(iterFine, sp.p), chainColors[3], 1.2)
})
addText('D', 10, 1112, 18, { weight: 'bold', align: 'left' })
addText('MCMC traceplots from observed data', 337, 1102, 21)

var chart = echarts.init(document.getElementById('chart'), null, { renderer: 'canvas' })
chart.setOption(opt)
</script>
</body>
</html>
